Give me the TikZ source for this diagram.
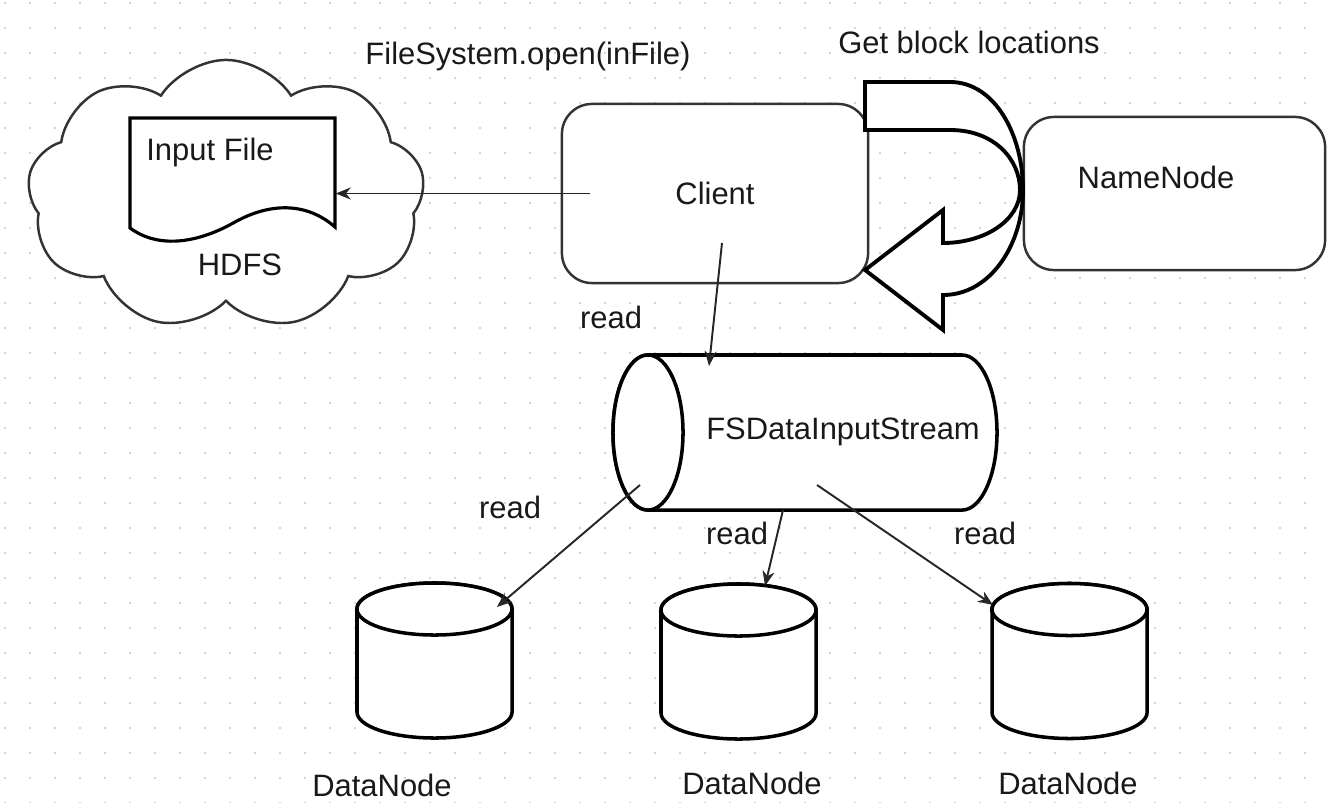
\documentclass[tikz,border=0pt]{standalone}
\usepackage{fontspec}
\setmainfont{Liberation Sans}
\usetikzlibrary{shapes.symbols,arrows.meta}

\begin{document}
\begin{tikzpicture}[x=0.01cm, y=-0.01cm,
    every node/.style={font=\fontsize{8.8}{10}\selectfont, text=black!90},
    box/.style={draw=black!80, line width=0.7pt, fill=white, rounded corners=0.3cm, inner sep=0},
    heavy/.style={draw=black, line width=1pt, fill=white},
    link/.style={draw=black!85, line width=0.55pt, -{Stealth[length=0.15cm, width=0.12cm]}}]
\useasboundingbox (0,0) rectangle (1327,803);
\fill[white] (0,0) rectangle (1327,803);
% dot grid
\foreach \x in {5,30,...,1327}
  \foreach \y in {3,28,...,803}
    \fill[black!22] (\x,\y) circle (0.011cm);

% HDFS cloud with the input file
\node[cloud, draw=black!80, line width=0.7pt, fill=white, cloud puffs=9, cloud puff arc=115,
    aspect=1.47, minimum width=3.97cm, minimum height=2.7cm, inner sep=0] (hdfs) at (226,195) {};
\node[inner sep=0, minimum width=2.05cm, minimum height=1.09cm] (infile) at (232.5,172.5) {};
\draw[line width=0.9pt, fill=white] (130,118) -- (335,118) -- (335,227)
    .. controls (310,205) and (275,200) .. (235,222)
    .. controls (200,242) and (160,250) .. (130,228) -- cycle;
\node (infiletxt) at (210,152) {Input File};
\node (hdfstxt) at (240,265) {HDFS};

% client and namenode
\node[box, minimum width=3.06cm, minimum height=1.79cm] (client) at (715,193.5) {Client};
\node[box, minimum width=3.01cm, minimum height=1.53cm] (namenode) at (1174.5,193.5) {};
\node (nametxt) at (1156,177) {NameNode};
\draw[line width=1.1pt, fill=white] (865,82) -- (950,82)
    .. controls (995,82) and (1023,135) .. (1023,190)
    .. controls (1023,245) and (990,295) .. (943,295)
    -- (943,330) -- (865,270) -- (943,210) -- (943,243)
    .. controls (985,243) and (1020,220) .. (1020,190)
    .. controls (1020,160) and (995,130) .. (950,130) -- (865,130) -- cycle;
\node (opentxt) at (528,56) {FileSystem.open(inFile)};
\node (blocktxt) at (969,42) {Get block locations};

% input stream
\node[inner sep=0, minimum width=3.84cm, minimum height=1.55cm] (stream) at (805,432.5) {};
\draw[heavy] (648,355) -- (962,355)
    arc[start angle=90, end angle=-90, x radius=0.35cm, y radius=0.775cm]
    -- (648,510) arc[start angle=270, end angle=90, x radius=0.35cm, y radius=0.775cm] -- cycle;
\draw[heavy] (648,432.5) ellipse [x radius=0.35cm, y radius=0.775cm];
\node (streamtxt) at (843,432) {FSDataInputStream};

% data nodes
\foreach \n/\cx/\cy in {dn1/434.5/660.5, dn2/738.5/661.5, dn3/1069.5/661} {
  \node[inner sep=0, minimum width=1.55cm, minimum height=1.55cm] (\n) at (\cx,\cy) {};
  \draw[heavy] (\cx-77.5,\cy-51.5) -- (\cx-77.5,\cy+51.5)
      arc[start angle=180, end angle=360, x radius=0.775cm, y radius=0.26cm]
      -- (\cx+77.5,\cy-51.5)
      arc[start angle=0, end angle=180, x radius=0.775cm, y radius=0.26cm] -- cycle;
  \draw[heavy] (\cx,\cy-51.5) ellipse [x radius=0.775cm, y radius=0.26cm];
}
\node (dn1txt) at (382,785) {DataNode};
\node (dn2txt) at (752,783) {DataNode};
\node (dn3txt) at (1068,783) {DataNode};

% connectors
\coordinate (clientout) at (590,193.5);
\draw[link] (clientout) -- (infile.east |- clientout);
\coordinate (clientdown) at (722,243);
\coordinate (streamin) at (709,366);
\draw[link] (clientdown) -- (streamin);
\node (read0) at (611,317) {read};
\coordinate (out1) at (640,485);
\coordinate (out2) at (783,510);
\coordinate (out3) at (817,485);
\coordinate (in1) at (497,607);
\coordinate (in2) at (765,586);
\coordinate (in3) at (993,605);
\draw[link] (out1) -- (in1);
\draw[link] (out2) -- (in2);
\draw[link] (out3) -- (in3);
\node (read1) at (510,507) {read};
\node (read2) at (737,533) {read};
\node (read3) at (985,533) {read};
\end{tikzpicture}
\end{document}
